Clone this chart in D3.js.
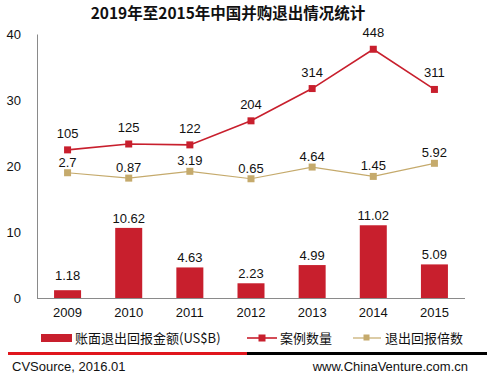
<!DOCTYPE html>
<html>
<head>
<meta charset="utf-8">
<script src="https://cdn.jsdelivr.net/npm/d3@7"></script>
<style>
  body { margin: 0; background: #fff; }
  svg { display: block; font-family: "Liberation Sans", Arial, sans-serif; }
  text { fill: #111; }
</style>
</head>
<body>
<svg width="487" height="375"></svg>
<script>
// data
var years = ['2009', '2010', '2011', '2012', '2013', '2014', '2015'];
var amount = [1.18, 10.62, 4.63, 2.23, 4.99, 11.02, 5.09];   // 账面退出回报金额(US$B)
var cases = [105, 125, 122, 204, 314, 448, 311];             // 案例数量
var multiple = [2.7, 0.87, 3.19, 0.65, 4.64, 1.45, 5.92];    // 退出回报倍数
var yTicks = [0, 10, 20, 30, 40];

var red = '#c81f2d', tan = '#c5aa6c';
var cjk = '"Noto Sans CJK SC", "Liberation Sans", sans-serif';

var svg = d3.select('svg');
var plotLeft = 37, plotRight = 465, plotTop = 34, plotBottom = 298;

var x = d3.scaleBand().domain(years).range([plotLeft, plotRight]).padding(0);
var bw = x.bandwidth();
var cx = function(d) { return x(d) + bw / 2; };

var y = d3.scaleLinear().domain([0, 40]).range([plotBottom, plotTop]);
// hidden secondary scales
var yCases = d3.scaleLinear().domain([-400, 500]).range([plotBottom, plotTop]);
var yMult = d3.scaleLinear().domain([-40, 50]).range([plotBottom, plotTop]);

// title
svg.append('text')
    .attr('x', 228).attr('y', 19)
    .attr('text-anchor', 'middle')
    .style('font-family', cjk)
    .style('font-weight', 'bold')
    .style('font-size', '15.5px')
    .text('2019年至2015年中国并购退出情况统计');

// left axis
var ya = svg.append('g')
    .attr('transform', 'translate(' + plotLeft + ',0)')
    .call(d3.axisLeft(y).tickValues(yTicks).tickSize(0).tickPadding(16));
ya.select('.domain').attr('stroke', '#8a8a8a');
ya.selectAll('text').style('font-size', '13px').attr('fill', '#111');

// bottom axis
var xa = svg.append('g')
    .attr('transform', 'translate(0,' + plotBottom + ')')
    .call(d3.axisBottom(x).tickSize(0).tickPadding(10));
xa.select('.domain').attr('stroke', '#8a8a8a').attr('d', 'M' + plotLeft + ',0.5H' + plotRight);
xa.selectAll('text').style('font-size', '13px').attr('fill', '#111');

// bars
var barW = 27;
svg.selectAll('.bar')
    .data(years)
    .enter().append('rect')
    .attr('class', 'bar')
    .attr('x', function(d) { return cx(d) - barW / 2; })
    .attr('y', function(d, i) { return y(amount[i]); })
    .attr('width', barW)
    .attr('height', function(d, i) { return plotBottom - y(amount[i]); })
    .attr('fill', red);

svg.selectAll('.barlabel')
    .data(years)
    .enter().append('text')
    .attr('x', cx)
    .attr('y', function(d, i) { return y(amount[i]) - (i == 0 ? 10 : 5); })
    .attr('text-anchor', 'middle')
    .style('font-size', '13px')
    .text(function(d, i) { return amount[i]; });

// lines
function drawLine(vals, sc, color, width, ms, dy) {
    var line = d3.line()
        .x(function(d, i) { return cx(years[i]); })
        .y(function(d) { return sc(d); });
    svg.append('path')
        .datum(vals)
        .attr('d', line)
        .attr('fill', 'none')
        .attr('stroke', color)
        .attr('stroke-width', width);
    svg.selectAll(null)
        .data(vals)
        .enter().append('rect')
        .attr('x', function(d, i) { return cx(years[i]) - ms / 2; })
        .attr('y', function(d) { return sc(d) - ms / 2; })
        .attr('width', ms).attr('height', ms)
        .attr('fill', color);
    svg.selectAll(null)
        .data(vals)
        .enter().append('text')
        .attr('x', function(d, i) { return cx(years[i]); })
        .attr('y', function(d) { return sc(d) - dy; })
        .attr('text-anchor', 'middle')
        .style('font-size', '13px')
        .text(function(d) { return d; });
}
drawLine(multiple, yMult, tan, 1.2, 7, 6);
drawLine(cases, yCases, red, 1.6, 7, 12);

// legend
var lg = svg.append('g').style('font-family', cjk).style('font-size', '13px');
lg.append('rect').attr('x', 41).attr('y', 334).attr('width', 31).attr('height', 8).attr('fill', red);
lg.append('text').attr('x', 75).attr('y', 343).text('账面退出回报金额(US$B)');
lg.append('line').attr('x1', 247).attr('x2', 277).attr('y1', 338).attr('y2', 338)
    .attr('stroke', red).attr('stroke-width', 1.6);
lg.append('rect').attr('x', 258.5).attr('y', 334.5).attr('width', 7).attr('height', 7).attr('fill', red);
lg.append('text').attr('x', 280).attr('y', 343).text('案例数量');
lg.append('line').attr('x1', 353).attr('x2', 381).attr('y1', 338).attr('y2', 338)
    .attr('stroke', tan).attr('stroke-width', 1.2);
lg.append('rect').attr('x', 363.5).attr('y', 334.5).attr('width', 6).attr('height', 6).attr('fill', tan);
lg.append('text').attr('x', 385).attr('y', 343).text('退出回报倍数');

// footer
svg.append('line').attr('x1', 8).attr('x2', 247).attr('y1', 353.5).attr('y2', 353.5)
    .attr('stroke', '#e0161d').attr('stroke-width', 3);
svg.append('line').attr('x1', 247).attr('x2', 487).attr('y1', 353.5).attr('y2', 353.5)
    .attr('stroke', '#000').attr('stroke-width', 3);
svg.append('text').attr('x', 12).attr('y', 371).style('font-size', '13px').text('CVSource, 2016.01');
svg.append('text').attr('x', 468).attr('y', 371).attr('text-anchor', 'end')
    .style('font-size', '13px').text('www.ChinaVenture.com.cn');
</script>
</body>
</html>
